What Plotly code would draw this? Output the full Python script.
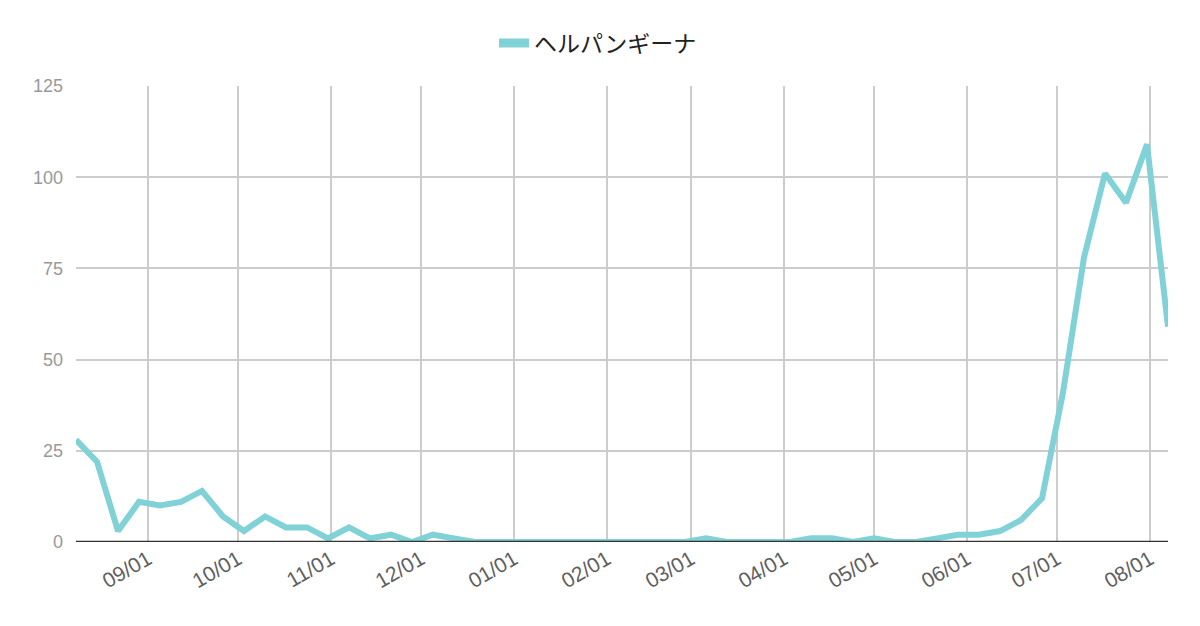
import pandas as pd
import plotly.graph_objects as go

# weekly interest values
start_date = '2022-08-08'
values = [28, 22, 3, 11, 10, 11, 14, 7, 3, 7, 4, 4, 1, 4, 1, 2, 0, 2, 1,
          0, 0, 0, 0, 0, 0, 0, 0, 0, 0, 0,
          1, 0, 0, 0, 0,
          1, 1, 0, 1, 0, 0, 1, 2, 2, 3, 6, 12, 41, 78, 101, 93, 109, 59]
series_name = 'ヘルパンギーナ'
month_ticks = ['2022-09-01', '2022-10-01', '2022-11-01', '2022-12-01', '2023-01-01',
               '2023-02-01', '2023-03-01', '2023-04-01', '2023-05-01', '2023-06-01',
               '2023-07-01', '2023-08-01']
y_ticks = [0, 25, 50, 75, 100, 125]

line_color = '#80d2d7'
dates = pd.date_range(start_date, periods=len(values), freq='7D')

fig = go.Figure()
fig.add_trace(go.Scatter(x=dates, y=values, mode='lines', name=series_name,
                         line=dict(color=line_color, width=6), showlegend=False))
# legend-only entry with a thicker key
fig.add_trace(go.Scatter(x=[None], y=[None], mode='lines', name=series_name,
                         line=dict(color=line_color, width=9)))

# page body has an 8px margin, so the margins are offset by that
fig.update_layout(
    width=1200, height=626,
    margin=dict(l=68, r=40, t=78, b=92),
    plot_bgcolor='white', paper_bgcolor='white',
    font=dict(family='Liberation Sans, Arial, sans-serif'),
    showlegend=True,
    legend=dict(orientation='h', x=0.478, xanchor='center',
                yref='container', y=0.944, yanchor='middle',
                itemwidth=30,
                font=dict(size=23, color='#222222', family='Noto Sans CJK JP, sans-serif')),
)
fig.update_xaxes(
    range=[dates[0], dates[-1]],
    tickvals=month_ticks, tickformat='%m/%d', tickangle=-30,
    tickfont=dict(size=21, color='#5f5f5f'),
    showgrid=True, gridcolor='#cccccc', gridwidth=1.5,
    showline=False, zeroline=False, ticks='',
)
fig.update_yaxes(
    range=[0, 125], tickvals=y_ticks,
    tickfont=dict(size=18, color='#999999'),
    showgrid=True, gridcolor='#cccccc', gridwidth=1.5,
    zeroline=False, showline=False, ticks='', ticklabelstandoff=12,
)
# dark baseline at zero
fig.add_shape(type='line', xref='paper', yref='y', x0=0, x1=1, y0=0, y1=0,
              line=dict(color='#333333', width=2.5))

fig.write_html('out.html')
